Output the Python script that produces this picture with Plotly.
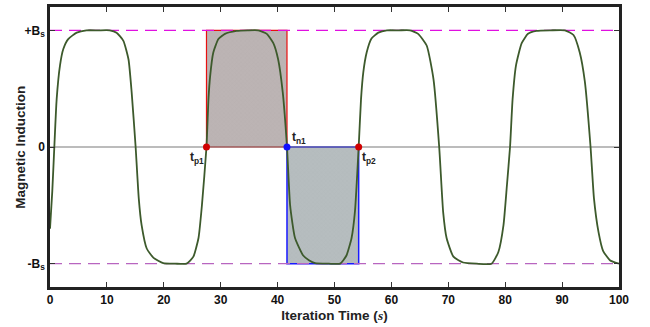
import plotly.graph_objects as go

# Curve samples (time, normalised induction B/Bs)
t_vals = [0.0, 0.4, 0.76, 1.17, 1.76, 2.34, 3.2, 4.7, 6.4, 8.5, 10.5, 11.7, 12.9, 13.8, 14.35, 15.05,
          15.6, 16.1, 17.0, 18.2, 19.9, 22.0, 24.0, 25.2, 26.1, 26.7, 27.5,
          27.85, 28.15, 28.7, 29.6, 30.75, 32.8, 34.7, 36.6, 38.1, 39.25, 40.1, 40.9, 41.65,
          42.2, 43.06, 44.5, 45.5, 46.6, 49.0, 51.0, 52.1, 53.0, 53.6, 54.25,
          54.66, 55.06, 55.65, 56.5, 57.7, 59.2, 61.3, 63.3, 64.7, 66.2, 67.4, 68.4,
          69.1, 69.7, 70.9, 72.6, 75.0, 77.6, 78.8, 79.7, 80.3, 80.85,
          81.3, 81.9, 82.9, 84.0, 85.5, 88.0, 90.5, 92.0, 93.1, 94.0, 95.0,
          95.6, 96.4, 97.2, 98.4, 100.0]
b_vals = [-0.70, -0.38, 0.0, 0.41, 0.70, 0.84, 0.925, 0.98, 1.0, 1.0, 1.0, 0.98, 0.91, 0.75, 0.47, 0.0,
          -0.44, -0.67, -0.87, -0.95, -0.995, -1.0, -1.0, -0.94, -0.78, -0.50, 0.0,
          0.41, 0.61, 0.81, 0.925, 0.97, 0.995, 1.0, 1.0, 0.97, 0.89, 0.75, 0.47, 0.0,
          -0.5, -0.78, -0.93, -0.97, -0.995, -1.0, -1.0, -0.93, -0.78, -0.55, 0.0,
          0.41, 0.64, 0.81, 0.93, 0.98, 1.0, 1.0, 1.0, 0.97, 0.87, 0.58, 0.0,
          -0.56, -0.78, -0.94, -0.99, -1.0, -1.0, -0.90, -0.67, -0.33, 0.0,
          0.41, 0.70, 0.89, 0.97, 0.995, 1.0, 1.0, 0.96, 0.81, 0.56, 0.0,
          -0.44, -0.73, -0.89, -0.97, -1.0]

# Zero-crossing markers
t_p1 = 27.5
t_n1 = 41.65
t_p2 = 54.25
B_s = 1.0

y_tickvals = [-1, 0, 1]
y_ticktext = ["-B<sub>s</sub>", "0", "+B<sub>s</sub>"]
x_tickvals = [0, 10, 20, 30, 40, 50, 60, 70, 80, 90, 100]

FONT = "Liberation Sans, Arial, sans-serif"

fig = go.Figure()

# Shaded rectangles
fig.add_trace(go.Scatter(
    x=[t_p1, t_p1, t_n1, t_n1, t_p1], y=[0, B_s, B_s, 0, 0],
    mode="lines", fill="toself", fillcolor="rgb(186,178,178)",
    fillpattern=dict(shape="x", size=3, solidity=0.1, fgcolor="rgb(168,158,158)", bgcolor="rgb(188,180,180)"),
    line=dict(color="#e81010", width=1.2), hoverinfo="skip", showlegend=False))
fig.add_trace(go.Scatter(
    x=[t_n1, t_n1, t_p2, t_p2, t_n1], y=[0, -B_s, -B_s, 0, 0],
    mode="lines", fill="toself", fillcolor="rgb(178,186,188)",
    fillpattern=dict(shape="x", size=3, solidity=0.1, fgcolor="rgb(160,168,170)", bgcolor="rgb(182,189,191)"),
    line=dict(color="#1a1aff", width=1.5), hoverinfo="skip", showlegend=False))

# Zero line
fig.add_trace(go.Scatter(x=[0, 100], y=[0, 0], mode="lines",
                         line=dict(color="#7a7a7a", width=1.2), showlegend=False, hoverinfo="skip"))
# Saturation lines
fig.add_trace(go.Scatter(x=[0, 100], y=[B_s, B_s], mode="lines",
                         line=dict(color="#e010e0", width=1.3, dash="12px,7px"), showlegend=False, hoverinfo="skip"))
fig.add_trace(go.Scatter(x=[0, 100], y=[-B_s, -B_s], mode="lines",
                         line=dict(color="#b865c0", width=1.3, dash="12px,7px"), showlegend=False, hoverinfo="skip"))

# Curve
fig.add_trace(go.Scatter(x=t_vals, y=b_vals, mode="lines",
                         line=dict(color="#3d5a2c", width=1.8, shape="spline", smoothing=0.5),
                         showlegend=False))

# Markers
fig.add_trace(go.Scatter(x=[t_p1, t_p2], y=[0, 0], mode="markers",
                         marker=dict(color="#d00000", size=7), showlegend=False))
fig.add_trace(go.Scatter(x=[t_n1], y=[0], mode="markers",
                         marker=dict(color="#1010ff", size=7), showlegend=False))

lbl_font = dict(family=FONT, size=12, color="#222", weight="bold")
fig.add_annotation(x=t_p1, y=0, text="t<sub>p1</sub>", showarrow=False, xanchor="right", yanchor="top",
                   xshift=0, yshift=-1, font=lbl_font)
fig.add_annotation(x=t_n1, y=0, text="t<sub>n1</sub>", showarrow=False, xanchor="left", yanchor="bottom",
                   xshift=3, yshift=-1, font=lbl_font)
fig.add_annotation(x=t_p2, y=0, text="t<sub>p2</sub>", showarrow=False, xanchor="left", yanchor="top",
                   xshift=1, yshift=-1, font=lbl_font)

tick_font = dict(family=FONT, size=12, color="#111", weight="bold")
title_font = dict(family=FONT, size=13.5, color="#222", weight="bold")

# Y-axis title as annotation (placed close to tick labels, as in the reference)
fig.add_annotation(xref="paper", yref="paper", x=-0.053, y=0.5, text="Magnetic Induction",
                   textangle=-90, showarrow=False, xanchor="center", yanchor="middle", font=title_font)

fig.update_layout(
    width=650, height=327,
    margin=dict(l=50, r=31, t=7, b=40, autoexpand=False),
    paper_bgcolor="white", plot_bgcolor="white",
    font=dict(family=FONT, size=12, color="#111"),
    xaxis=dict(range=[0, 100], tickvals=x_tickvals, ticks="inside", ticklen=5, tickwidth=1.2,
               tickcolor="#333", showline=True, linecolor="#222", linewidth=2.5, mirror="ticks",
               showgrid=False, zeroline=False, tickfont=tick_font, automargin=False,
               title=dict(text="Iteration Time (<i><span style='font-family:Liberation Serif'>s</span></i>)",
                          font=title_font, standoff=5)),
    yaxis=dict(range=[-1.2, 1.2], tickvals=y_tickvals, ticktext=y_ticktext, ticks="inside", ticklen=5,
               tickwidth=1.2, tickcolor="#333", showline=True, linecolor="#222", linewidth=2.5,
               mirror="ticks", showgrid=False, zeroline=False, tickfont=tick_font, automargin=False),
)

fig.write_html("out.html")
